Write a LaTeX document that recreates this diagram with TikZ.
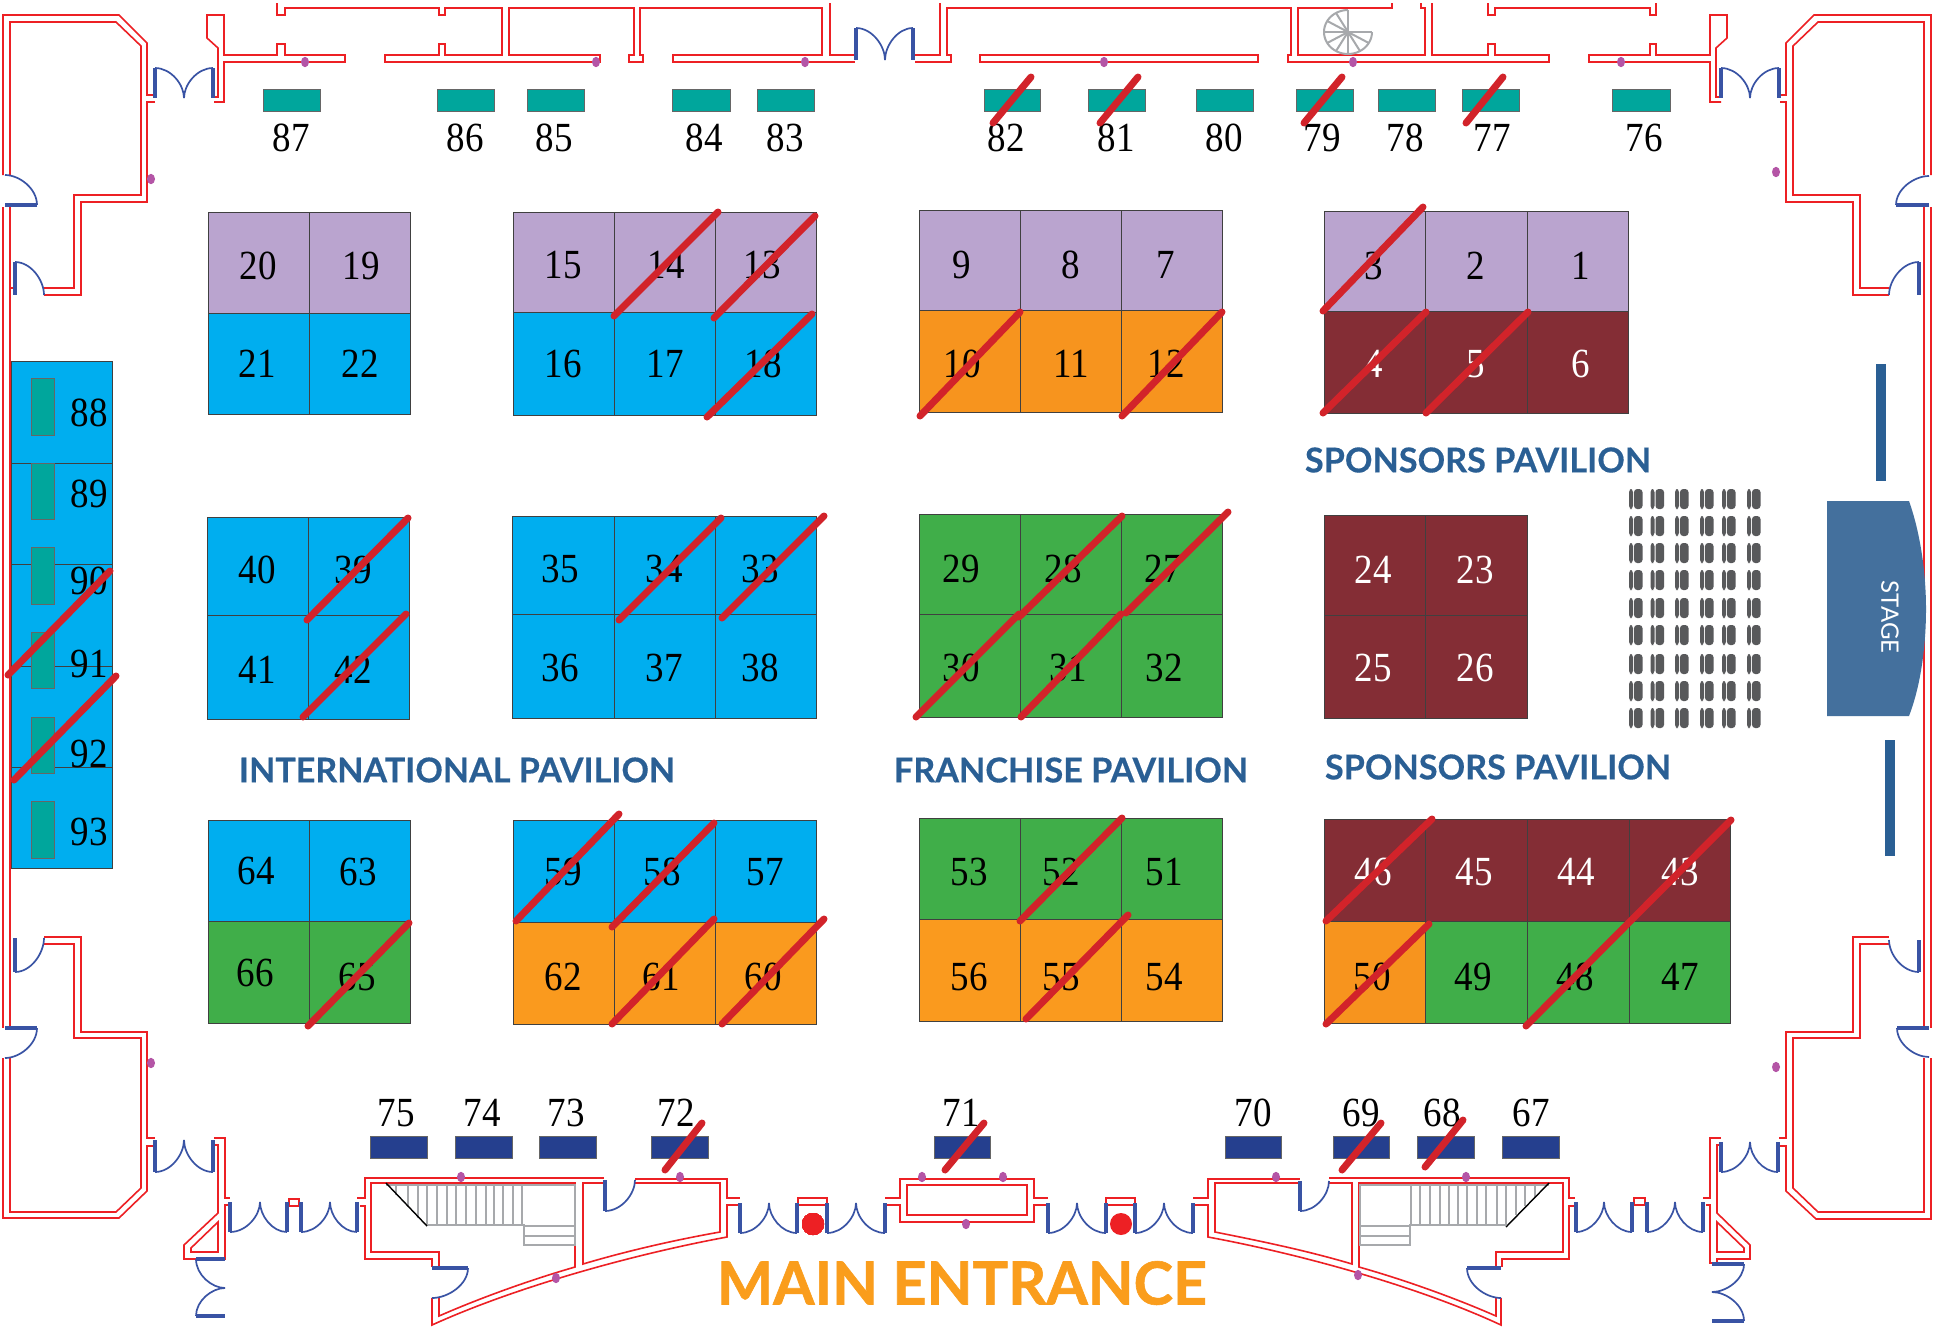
\documentclass[tikz,border=0pt]{standalone}
\usepackage{fontspec}
\usepackage{graphicx}
\setmainfont{Liberation Serif}
\newfontfamily\pavfont{Lato}[BoldFeatures={FakeBold=0.4}]
\newfontfamily\heavyfont{Lato}[BoldFeatures={FakeBold=1}]
\definecolor{wallred}{HTML}{ED2024}
\definecolor{doorblue}{HTML}{3953A4}
\definecolor{slashred}{HTML}{D2232A}
\definecolor{lav}{HTML}{BAA4CF}
\definecolor{sky}{HTML}{00AEEF}
\definecolor{ora}{HTML}{FA9A1E}
\definecolor{orb}{HTML}{F7941E}
\definecolor{gre}{HTML}{40AE49}
\definecolor{mar}{HTML}{842D35}
\definecolor{tea}{HTML}{00A69C}
\definecolor{nav}{HTML}{253F8E}
\definecolor{pavblue}{HTML}{2A5F94}
\definecolor{stagec}{HTML}{44709D}
\definecolor{seatc}{HTML}{58595B}
\definecolor{stairc}{HTML}{A7A9AC}
\definecolor{dotc}{HTML}{B455A6}
\definecolor{mainc}{HTML}{FA9D1C}
\tikzset{
  wall/.style={draw=wallred,line width=0.8pt,line join=miter},
  leaf/.style={draw=doorblue,line width=1.6pt},
  swing/.style={draw=doorblue,line width=0.85pt},
  slash/.style={draw=slashred,line width=3.5pt,line cap=round},
  boothcell/.style={draw=black!75,line width=0.45pt},
  smallbox/.style={draw=black!60,line width=0.4pt},
  num/.style={inner sep=0pt,font=\fontsize{18.5}{20}\selectfont},
  wnum/.style={num,text=white},
  pav/.style={inner sep=0pt,text=pavblue,font=\pavfont\bfseries\fontsize{15}{17}\selectfont},
  treadl/.style={draw=stairc,line width=0.6pt},
  stairl/.style={draw=stairc,line width=1pt},
  seat/.style={fill=seatc,rounded corners=1.6pt},
}
\newcommand{\cellbox}[5]{\path[boothcell,fill=#5] (#1,#2) rectangle (#3,#4);}
\newcommand{\lab}[3]{\node[num] (n#1) at (#2,#3) {\scalebox{1}[1.12]{#1}};}
\newcommand{\wlab}[3]{\node[wnum] (n#1) at (#2,#3) {\scalebox{1}[1.12]{#1}};}
\newcommand{\doorV}[4]{\draw[leaf] (#1,#2) -- (#1,#3);
  \draw[swing] (#1,#2) .. controls ({#1+0.55*(#4-#1)},#2) and (#4,{#3+0.45*(#2-#3)}) .. (#4,#3);}
\newcommand{\doorH}[4]{\draw[leaf] (#2,#1) -- (#3,#1);
  \draw[swing] (#2,#1) .. controls (#2,{#1+0.55*(#4-#1)}) and ({#3+0.45*(#2-#3)},#4) .. (#3,#4);}
\newcommand{\pdot}[2]{\fill[dotc] (#1,#2) ellipse [x radius=2pt,y radius=2.6pt];}
\begin{document}
\begin{tikzpicture}[x=0.5pt,y=-0.5pt]
\path[use as bounding box,fill=white] (0,0) rectangle (1934,1330);

% ---- walls: top
\draw[wall] (3,175)--(3,15)--(119,15)--(147,43)--(147,95)--(155,95);
\draw[wall] (10,175)--(10,22)--(116,22)--(141,46)--(141,195)--(74,195)--(74,288)--(44,288);
\draw[wall] (155,102)--(147,102)--(147,202)--(81,202)--(81,295)--(44,295);
\draw[wall] (3,207)--(3,1028);
\draw[wall] (10,207)--(10,1028);
\draw[wall] (10,288)--(14,288);
\draw[wall] (214,97)--(218,97)--(218,48)--(207,38)--(207,15)--(224,15)--(224,55)--(277,55)--(277,44)--(285,44)--(285,55)--(345,55)--(345,62)--(224,62)--(224,102)--(214,102);
\draw[wall] (277,3)--(277,15)--(285,15)--(285,8)--(439,8)--(439,15)--(445,15)--(445,8)--(502,8)--(502,55)--(445,55)--(445,44)--(439,44)--(439,55)--(385,55)--(385,62)--(600,62)--(600,55)--(509,55)--(509,8)--(634,8)--(634,55)--(629,55)--(629,62)--(643,62)--(643,55)--(640,55)--(640,8)--(822,8)--(822,55)--(673,55)--(673,62)--(855,62);
\draw[wall] (830,3)--(830,55)--(856,55);
\draw[wall] (915,55)--(940,55)--(940,3);
\draw[wall] (915,62)--(951,62)--(951,55)--(947,55)--(947,8)--(1291,8)--(1291,55)--(1288,55)--(1288,62)--(1549,62)--(1549,55)--(1495,55)--(1495,44)--(1488,44)--(1488,55)--(1432,55)--(1432,3);
\draw[wall] (980,55) rectangle (1258,62);
\draw[wall] (1392,3)--(1392,8)--(1298,8)--(1298,55)--(1425,55)--(1425,8)--(1421,8)--(1421,3);
\draw[wall] (1488,3)--(1488,15)--(1495,15)--(1495,8)--(1650,8)--(1650,15)--(1656,15)--(1656,3);
\draw[wall] (1721,97)--(1716,97)--(1716,48)--(1727,38)--(1727,15)--(1710,15)--(1710,55)--(1656,55)--(1656,44)--(1650,44)--(1650,55)--(1589,55)--(1589,62)--(1710,62)--(1710,102)--(1721,102);
\draw[wall] (1779,95)--(1786,95)--(1786,43)--(1814,15)--(1931,15)--(1931,175);
\draw[wall] (1924,175)--(1924,22)--(1818,22)--(1793,46)--(1793,195)--(1860,195)--(1860,288)--(1889,288);
\draw[wall] (1780,102)--(1786,102)--(1786,202)--(1853,202)--(1853,295)--(1889,295);
\draw[wall] (1931,207)--(1931,1028);
\draw[wall] (1924,207)--(1924,1028);

% ---- walls: lower side rooms
\draw[wall] (3,1058)--(3,1218)--(119,1218)--(147,1191)--(147,1146)--(155,1146);
\draw[wall] (10,1058)--(10,1212)--(116,1212)--(141,1188)--(141,1038)--(74,1038)--(74,944)--(44,944);
\draw[wall] (44,937)--(81,937)--(81,1032)--(147,1032)--(147,1138)--(155,1138);
\draw[wall] (214,1138)--(225,1138)--(225,1198)--(230,1198);
\draw[wall] (214,1145)--(218,1145)--(218,1213)--(184,1245)--(184,1259)--(225,1259)--(225,1205)--(230,1205);
\draw[wall] (218,1222)--(191,1248)--(191,1252)--(218,1252)--cycle;
\draw[wall] (289,1199) rectangle (299,1206);
\draw[wall] (1779,1138)--(1786,1138)--(1786,1032)--(1853,1032)--(1853,937)--(1889,937);
\draw[wall] (1779,1146)--(1786,1146)--(1786,1191)--(1816,1219)--(1931,1219)--(1931,1058);
\draw[wall] (1889,944)--(1860,944)--(1860,1038)--(1793,1038)--(1793,1188)--(1818,1212)--(1924,1212)--(1924,1058);
\draw[wall] (1703,1198)--(1710,1198)--(1710,1138)--(1721,1138);
\draw[wall] (1721,1145)--(1717,1145)--(1717,1213)--(1750,1245)--(1750,1259)--(1717,1259)--(1717,1263);
\draw[wall] (1706,1205)--(1710,1205)--(1710,1263)--(1714,1263);
\draw[wall] (1717,1222)--(1744,1248)--(1744,1252)--(1717,1252)--cycle;
\draw[wall] (1634,1198) rectangle (1645,1205);

% ---- walls: main entrance
\draw[wall] (604,1178)--(365,1178)--(365,1198)--(357,1198);
\draw[wall] (360,1206)--(365,1206)--(365,1259)--(432,1259)--(432,1267);
\draw[wall] (439,1267)--(439,1252)--(371,1252)--(371,1183)--(575,1183)--(575,1267) .. controls (530,1280) and (480,1298) .. (439,1316)--(439,1298);
\draw[wall] (604,1183)--(583,1183)--(583,1264) .. controls (630,1250) and (680,1239) .. (720,1232)--(720,1183)--(635,1183);
\draw[wall] (635,1179)--(727,1179)--(727,1198)--(740,1198);
\draw[wall] (740,1205)--(727,1205)--(727,1237) .. controls (640,1253) and (520,1285) .. (432,1325)--(432,1298);
\draw[wall] (798,1198) rectangle (827,1205);
\draw[wall] (885,1198)--(900,1198)--(900,1179)--(1034,1179)--(1034,1198)--(1048,1198);
\draw[wall] (885,1205)--(900,1205)--(900,1222)--(1034,1222)--(1034,1205)--(1048,1205);
\draw[wall] (907,1185) rectangle (1027,1215);
\draw[wall] (1106,1198) rectangle (1135,1205);
\draw[wall] (1193,1198)--(1208,1198)--(1208,1179)--(1300,1179);
\draw[wall] (1193,1205)--(1208,1205)--(1208,1237) .. controls (1295,1253) and (1415,1285) .. (1501,1325)--(1501,1298);
\draw[wall] (1300,1183)--(1215,1183)--(1215,1232) .. controls (1255,1240) and (1305,1250) .. (1352,1264)--(1352,1183)--(1329,1183);
\draw[wall] (1329,1178)--(1569,1178)--(1569,1198)--(1575,1198);
\draw[wall] (1575,1206)--(1569,1206)--(1569,1259)--(1502,1259)--(1502,1267);
\draw[wall] (1496,1267)--(1496,1252)--(1563,1252)--(1563,1183)--(1359,1183)--(1359,1267) .. controls (1405,1280) and (1455,1298) .. (1496,1316)--(1496,1298);

% ---- spiral stair
\draw[stairl] plot[domain=90:360,samples=40] ({1348+24*cos(\x)},{32-22*sin(\x)});
\foreach \a in {90,120,150,180,210,240,270,300,330,360}
  \draw[stairl] (1348,32) -- ({1348+24*cos(\a)},{32-22*sin(\a)});

% ---- straight stairs, left
\draw[stairl] (386,1185)--(575,1185)--(575,1245)--(524,1245)--(524,1225)--(427,1225);
\draw[stairl] (524,1226)--(575,1226);
\draw[stairl] (524,1236)--(575,1236);
\foreach \x/\yb in {396/1195,408/1207,418/1218,427/1225,437/1225,447/1225,456/1225,466/1225,476/1225,486/1225,494/1225,503/1225,513/1225,522/1225}
  \draw[treadl] (\x,1185) -- (\x,\yb);
\draw[black,line width=0.7pt] (386,1183) -- (427,1226);
% ---- straight stairs, right
\draw[stairl] (1549,1185)--(1360,1185)--(1360,1245)--(1410,1245)--(1410,1225)--(1506,1225);
\draw[stairl] (1360,1226)--(1410,1226);
\draw[stairl] (1360,1236)--(1410,1236);
\foreach \x/\yb in {1411/1225,1420/1225,1430/1225,1440/1225,1449/1225,1458/1225,1467/1225,1477/1225,1486/1225,1497/1225,1506/1225,1516/1215,1525/1206,1535/1197}
  \draw[treadl] (\x,1185) -- (\x,\yb);
\draw[black,line width=0.7pt] (1549,1183) -- (1506,1227);

% ---- doors
\doorH{205}{37}{5}{175}
\doorV{15}{262}{295}{44}
\doorV{155}{68}{98}{184}
\doorV{213}{68}{98}{184}
\doorV{856}{28}{60}{885}
\doorV{913}{28}{60}{885}
\doorV{1721}{68}{98}{1750}
\doorV{1779}{68}{98}{1750}
\doorH{205}{1896}{1929}{176}
\doorV{1919}{262}{295}{1889}
\doorV{15}{972}{938}{44}
\doorH{1028}{37}{5}{1058}
\doorV{155}{1172}{1140}{184}
\doorV{213}{1172}{1140}{184}
\doorH{1259}{196}{225}{1288}
\doorH{1316}{196}{225}{1288}
\doorV{230}{1232}{1202}{260}
\doorV{287}{1232}{1202}{260}
\doorV{301}{1232}{1202}{330}
\doorV{357}{1232}{1202}{330}
\doorH{1268}{468}{432}{1298}
\doorV{605}{1211}{1180}{635}
\doorV{740}{1233}{1203}{769}
\doorV{797}{1233}{1203}{769}
\doorV{827}{1233}{1203}{856}
\doorV{885}{1233}{1203}{856}
\doorV{1048}{1233}{1203}{1077}
\doorV{1106}{1233}{1203}{1077}
\doorV{1135}{1233}{1203}{1164}
\doorV{1193}{1233}{1203}{1164}
\doorV{1300}{1211}{1181}{1329}
\doorH{1268}{1467}{1501}{1298}
\doorV{1576}{1232}{1202}{1604}
\doorV{1632}{1232}{1202}{1604}
\doorV{1647}{1232}{1202}{1675}
\doorV{1703}{1232}{1202}{1675}
\doorV{1721}{1172}{1142}{1750}
\doorV{1778}{1172}{1142}{1750}
\doorV{1919}{972}{940}{1889}
\doorH{1028}{1897}{1929}{1057}
\doorH{1264}{1744}{1712}{1292}
\doorH{1321}{1744}{1712}{1292}

% ---- columns and emergency marks
\foreach \x/\y in {305/62,596/62,151/179,805/62,1104/62,1353/62,1621/62,1776/172,151/1063,461/1177,556/1278,680/1177,922/1177,1003/1177,966/1224,1276/1177,1466/1177,1358/1275,1776/1067}
  \pdot{\x}{\y}
\fill[wallred] (813,1224) circle (5.5pt);
\fill[wallred] (1121,1224) circle (5.5pt);

% ---- top kiosks
\foreach \a/\b in {263/320,437/494,527/584,672/730,757/814,984/1040,1088/1145,1196/1253,1296/1353,1378/1435,1462/1519,1612/1670}
  \path[smallbox,fill=tea] (\a,89) rectangle (\b,111);
\lab{87}{291}{138}\lab{86}{465}{138}\lab{85}{554}{138}\lab{84}{704}{138}\lab{83}{785}{138}\lab{82}{1006}{138}\lab{81}{1116}{138}\lab{80}{1224}{138}\lab{79}{1322}{138}\lab{78}{1405}{138}\lab{77}{1492}{138}\lab{76}{1644}{138}

% ---- bottom kiosks
\foreach \a/\b in {370/427,455/512,539/596,651/708,934/990,1225/1281,1333/1389,1417/1474,1502/1559}
  \path[smallbox,fill=nav] (\a,1136) rectangle (\b,1158);
\lab{75}{396}{1113}\lab{74}{482}{1113}\lab{73}{566}{1113}\lab{72}{676}{1113}\lab{71}{961}{1113}\lab{70}{1253}{1113}\lab{69}{1361}{1113}\lab{68}{1442}{1113}\lab{67}{1531}{1113}

% ---- left column
\cellbox{11}{361}{112}{463}{sky}\cellbox{11}{463}{112}{564}{sky}\cellbox{11}{564}{112}{666}{sky}\cellbox{11}{666}{112}{767}{sky}\cellbox{11}{767}{112}{868}{sky}
\foreach \a/\b in {378/435,463/519,547/604,632/688,717/773,801/858}
  \path[smallbox,fill=tea] (31,\a) rectangle (54,\b);
\lab{88}{89}{413}\lab{89}{89}{494}\lab{90}{89}{581}\lab{91}{89}{664}\lab{92}{89}{754}\lab{93}{89}{832}

% ---- booths row 1
\cellbox{208}{212}{309}{313}{lav}\cellbox{309}{212}{410}{313}{lav}\cellbox{208}{313}{309}{414}{sky}\cellbox{309}{313}{410}{414}{sky}
\lab{20}{258}{266}\lab{19}{361}{266}\lab{21}{257}{364}\lab{22}{360}{364}
\cellbox{513}{212}{614}{312}{lav}\cellbox{614}{212}{715}{312}{lav}\cellbox{715}{212}{816}{312}{lav}
\cellbox{513}{312}{614}{415}{sky}\cellbox{614}{312}{715}{415}{sky}\cellbox{715}{312}{816}{415}{sky}
\lab{15}{563}{265}\lab{14}{666}{265}\lab{13}{762}{265}\lab{16}{563}{364}\lab{17}{665}{364}\lab{18}{763}{364}
\cellbox{919}{210}{1020}{310}{lav}\cellbox{1020}{210}{1121}{310}{lav}\cellbox{1121}{210}{1222}{310}{lav}
\cellbox{919}{310}{1020}{412}{orb}\cellbox{1020}{310}{1121}{412}{orb}\cellbox{1121}{310}{1222}{412}{orb}
\lab{9}{962}{265}\lab{8}{1071}{265}\lab{7}{1166}{265}\lab{10}{962}{364}\lab{11}{1071}{364}\lab{12}{1166}{364}
\cellbox{1324}{211}{1425}{311}{lav}\cellbox{1425}{211}{1527}{311}{lav}\cellbox{1527}{211}{1628}{311}{lav}
\cellbox{1324}{311}{1425}{413}{mar}\cellbox{1425}{311}{1527}{413}{mar}\cellbox{1527}{311}{1628}{413}{mar}
\lab{3}{1374}{266}\lab{2}{1476}{266}\lab{1}{1581}{266}\wlab{4}{1374}{364}\wlab{5}{1476}{364}\wlab{6}{1581}{364}

% ---- booths row 2
\cellbox{207}{517}{308}{615}{sky}\cellbox{308}{517}{409}{615}{sky}\cellbox{207}{615}{308}{719}{sky}\cellbox{308}{615}{409}{719}{sky}
\lab{40}{257}{570}\lab{39}{353}{570}\lab{41}{257}{670}\lab{42}{353}{670}
\cellbox{512}{516}{614}{614}{sky}\cellbox{614}{516}{715}{614}{sky}\cellbox{715}{516}{816}{614}{sky}
\cellbox{512}{614}{614}{718}{sky}\cellbox{614}{614}{715}{718}{sky}\cellbox{715}{614}{816}{718}{sky}
\lab{35}{560}{569}\lab{34}{664}{569}\lab{33}{760}{569}\lab{36}{560}{668}\lab{37}{664}{668}\lab{38}{760}{668}
\cellbox{919}{514}{1020}{614}{gre}\cellbox{1020}{514}{1121}{614}{gre}\cellbox{1121}{514}{1222}{614}{gre}
\cellbox{919}{614}{1020}{717}{gre}\cellbox{1020}{614}{1121}{717}{gre}\cellbox{1121}{614}{1222}{717}{gre}
\lab{29}{961}{569}\lab{28}{1063}{569}\lab{27}{1163}{569}\lab{30}{961}{668}\lab{31}{1068}{668}\lab{32}{1164}{668}
\cellbox{1324}{515}{1425}{615}{mar}\cellbox{1425}{515}{1527}{615}{mar}\cellbox{1324}{615}{1425}{718}{mar}\cellbox{1425}{615}{1527}{718}{mar}
\wlab{24}{1373}{570}\wlab{23}{1475}{570}\wlab{25}{1373}{668}\wlab{26}{1475}{668}

% ---- booths row 3
\cellbox{208}{820}{309}{921}{sky}\cellbox{309}{820}{410}{921}{sky}\cellbox{208}{921}{309}{1023}{gre}\cellbox{309}{921}{410}{1023}{gre}
\lab{64}{256}{871}\lab{63}{358}{872}\lab{66}{255}{973}\lab{65}{357}{977}
\cellbox{513}{820}{614}{922}{sky}\cellbox{614}{820}{715}{922}{sky}\cellbox{715}{820}{816}{922}{sky}
\cellbox{513}{922}{614}{1024}{ora}\cellbox{614}{922}{715}{1024}{ora}\cellbox{715}{922}{816}{1024}{ora}
\lab{59}{563}{872}\lab{58}{662}{872}\lab{57}{765}{872}\lab{62}{563}{977}\lab{61}{661}{977}\lab{60}{763}{977}
\cellbox{919}{818}{1020}{919}{gre}\cellbox{1020}{818}{1121}{919}{gre}\cellbox{1121}{818}{1222}{919}{gre}
\cellbox{919}{919}{1020}{1021}{ora}\cellbox{1020}{919}{1121}{1021}{ora}\cellbox{1121}{919}{1222}{1021}{ora}
\lab{53}{969}{872}\lab{52}{1061}{872}\lab{51}{1164}{872}\lab{56}{969}{977}\lab{55}{1061}{977}\lab{54}{1164}{977}
\cellbox{1324}{819}{1425}{921}{mar}\cellbox{1425}{819}{1527}{921}{mar}\cellbox{1527}{819}{1629}{921}{mar}\cellbox{1629}{819}{1730}{921}{mar}
\cellbox{1324}{921}{1425}{1023}{orb}\cellbox{1425}{921}{1527}{1023}{gre}\cellbox{1527}{921}{1629}{1023}{gre}\cellbox{1629}{921}{1730}{1023}{gre}
\wlab{46}{1373}{872}\wlab{45}{1474}{872}\wlab{44}{1576}{872}\wlab{43}{1680}{872}\lab{50}{1372}{977}\lab{49}{1473}{977}\lab{48}{1575}{977}\lab{47}{1680}{977}

% ---- taken-booth strokes
\foreach \ax/\ay/\bx/\by in {
 1031/77/993/123,1138/77/1100/123,1342/77/1304/123,1503/77/1466/123,
 110/571/8/675,116/676/14/780,
 718/212/614/316,815/216/714/318,812/314/707/417,
 1020/312/920/416,1222/312/1122/416,
 1423/207/1323/311,1426/312/1323/413,1528/312/1426/413,
 408/518/307/620,406/614/303/717,
 721/518/619/620,824/516/722/618,
 1122/516/1019/617,1228/512/1126/613,1019/614/916/717,1121/614/1021/717,
 409/923/308/1026,
 619/814/516/921,714/823/612/927,714/919/612/1024,824/919/722/1024,
 1122/818/1020/921,1128/915/1026/1019,
 1432/819/1326/921,1429/924/1326/1024,1731/820/1526/1026,
 702/1123/665/1170,984/1123/945/1170,1381/1123/1342/1170,1463/1120/1425/1167}
  \draw[slash] (\ax,\ay) -- (\bx,\by);

% ---- pavilion titles
\node[pav] (pavA) at (1478,460) {\resizebox{173pt}{!}{SPONSORS PAVILION}};
\node[pav] (pavB) at (457,770) {\resizebox{218pt}{!}{INTERNATIONAL PAVILION}};
\node[pav] (pavC) at (1071,770) {\resizebox{177pt}{!}{FRANCHISE PAVILION}};
\node[pav] (pavD) at (1498,767) {\resizebox{173pt}{!}{SPONSORS PAVILION}};
\node[inner sep=0pt,text=mainc] (mainent) at (962,1283) {\resizebox{245pt}{!}{\heavyfont\bfseries\fontsize{30}{32}\selectfont MAIN ENTRANCE}};

% ---- seats
\foreach \sx in {1629,1650.5,1675,1700,1722,1747}
  \foreach \sy in {489,516,543,570,598,625,654,681,708} {
    \path[seat] (\sx,\sy) rectangle ({\sx+4},{\sy+20});
    \path[seat] ({\sx+5},\sy) rectangle ({\sx+13.5},{\sy+20});
  }

% ---- stage
\fill[pavblue] (1876,364) rectangle (1886,481);
\fill[pavblue] (1885,740) rectangle (1895,856);
\fill[stagec] (1827,501) -- (1909,501) .. controls (1921,535) and (1926,575) .. (1926,609) .. controls (1926,645) and (1921,685) .. (1909,716) -- (1827,716) -- cycle;
\node[inner sep=0pt,text=white,rotate=-90] (stagelabel) at (1890,617) {\pavfont\fontsize{12}{14}\selectfont STAGE};
\end{tikzpicture}
\end{document}
